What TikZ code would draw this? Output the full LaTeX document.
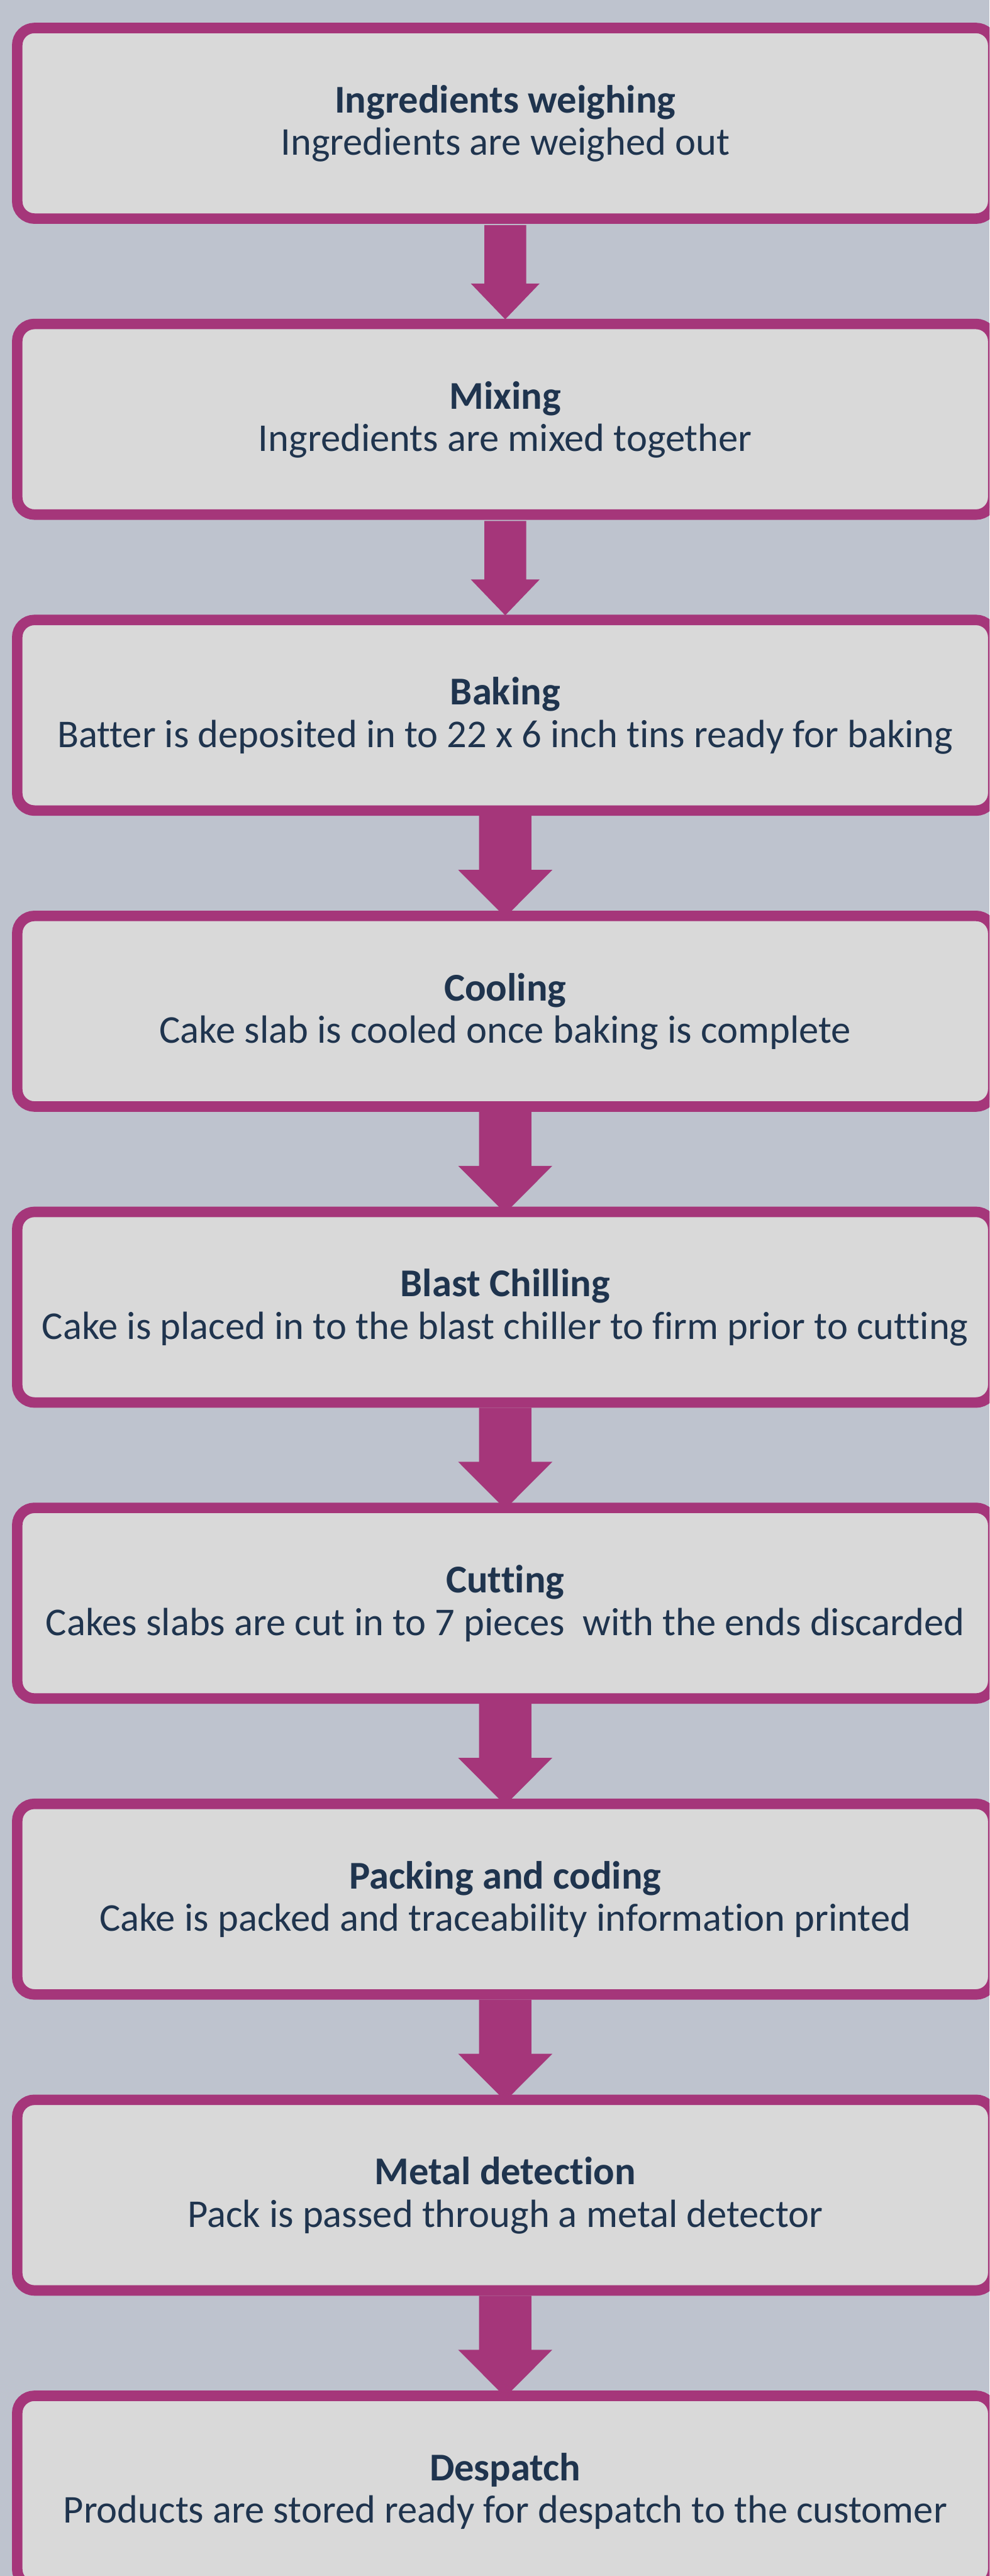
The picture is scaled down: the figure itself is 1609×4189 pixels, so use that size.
\documentclass[tikz,border=0pt]{standalone}
\usepackage{fontspec}
\setmainfont[Ligatures={NoCommon}]{Carlito}
\usetikzlibrary{calc}
\definecolor{bgc}{RGB}{190,195,206}
\definecolor{boxfill}{RGB}{217,217,217}
\definecolor{magen}{RGB}{165,54,122}
\definecolor{txt}{RGB}{31,52,78}
\pgfdeclarelayer{bglayer}
\pgfdeclarelayer{arrlayer}
\pgfsetlayers{bglayer,arrlayer,main}
\tikzset{
  stepbox/.style={draw=magen, fill=boxfill, line width=17pt, rounded corners=28pt,
    minimum width=1587pt, minimum height=310pt, inner sep=0pt},
  ttl/.style={anchor=base, text=txt, font=\fontsize{64}{69}\selectfont\bfseries, inner sep=0pt},
  sub/.style={anchor=base, text=txt, font=\fontsize{64}{69}\selectfont, inner sep=0pt},
  flow/.style={fill=magen, draw=none}
}
\begin{document}
\begin{tikzpicture}[x=1pt,y=1pt]
\useasboundingbox (0,0) rectangle (1609,-4189);
\begin{pgfonlayer}{bglayer}
\fill[bgc] (0,0) rectangle (1609,-4189);
\end{pgfonlayer}
\clip (0,0) rectangle (1609,-4189);
\foreach \k/\t/\s in {
  1/Ingredients weighing/Ingredients are weighed out,
  2/Mixing/Ingredients are mixed together,
  3/Baking/Batter is deposited in to 22 x 6 inch tins ready for baking,
  4/Cooling/Cake slab is cooled once baking is complete,
  5/Blast Chilling/Cake is placed in to the blast chiller to firm prior to cutting,
  6/Cutting/Cakes slabs are cut in to 7 pieces\ \ with the ends discarded,
  7/Packing and coding/Cake is packed and traceability information printed,
  8/Metal detection/Pack is passed through a metal detector,
  9/Despatch/Products are stored ready for despatch to the customer}{
  \node[stepbox] (b\k) at (821.5,{-200.5-481.3*(\k-1)}) {};
  \node[ttl] (t\k) at ($(b\k.center)+(0,17)$) {\t};
  \node[sub] (s\k) at ($(b\k.center)+(0,-52)$) {\s};
}
\begin{pgfonlayer}{arrlayer}
\foreach \a/\b in {1/2,2/3}{
  \fill[flow] ($(b\a.south)+(-34,-2)$) -- ++(0,-95) -- ++(-22,0) -- ($(b\b.north)+(0,-1)$)
     -- ($(b\a.south)+(56,-97)$) -- ++(-22,0) -- ($(b\a.south)+(34,-2)$) -- cycle;
}
\foreach \a/\b in {3/4,4/5,5/6,6/7,7/8,8/9}{
  \fill[flow] ($(b\a.south)+(-42.5,0)$) -- ++(0,-88) -- ++(-34,0) -- ($(b\b.north)+(0,-10.5)$)
     -- ($(b\a.south)+(76.5,-88)$) -- ++(-34,0) -- ($(b\a.south)+(42.5,0)$) -- cycle;
}
\end{pgfonlayer}
\end{tikzpicture}
\end{document}
